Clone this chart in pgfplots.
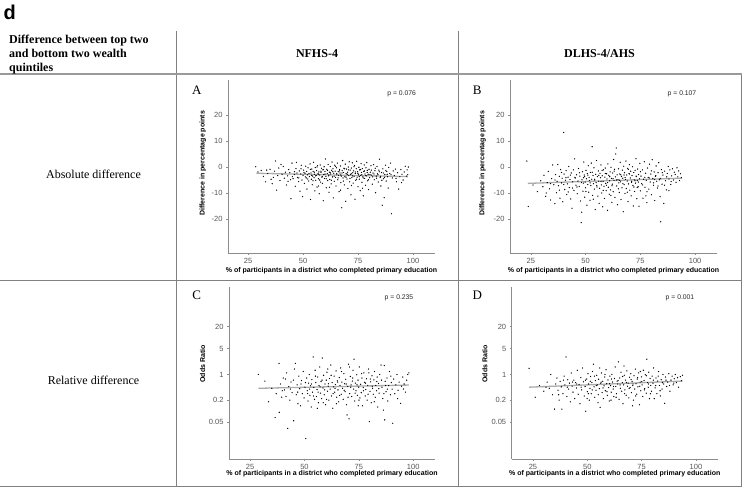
\documentclass[border=0pt]{standalone}
\usepackage{fontspec}
\setmainfont{Liberation Serif}
\setsansfont{Liberation Sans}
\usepackage{pgfplots}
\pgfplotsset{compat=1.18}
\definecolor{rulegray}{RGB}{128,128,128}
\definecolor{axisgray}{RGB}{140,140,140}
\definecolor{ticktext}{RGB}{85,85,85}
\definecolor{dotcol}{RGB}{60,60,60}
\definecolor{fitline}{RGB}{170,170,170}

\pgfplotsset{
  panel/.style={
    scale only axis, anchor=south west,
    axis lines=left, axis line style={draw=axisgray, line width=0.9pt, -},
    tick style={draw=axisgray, line width=0.6pt}, tick align=outside,
    major tick length=2pt,
    xmax=110, xtick={25,50,75,100},
    ticklabel style={font=\sffamily\fontsize{7.5}{8}\selectfont, text=ticktext},
    /pgf/number format/assume math mode=true,
    xlabel={\% of participants in a district who completed primary education},
    label style={font=\sffamily\bfseries\fontsize{7}{8}\selectfont},
  },
  absrow/.style={width=207pt, height=173pt, ymin=-33, ymax=33.6,
    ytick={-20,-10,0,10,20},
    ylabel={Difference in percentage points},
    xlabel style={at={(axis description cs:0.5,-0.102)}, anchor=center}},
  relrow/.style={width=206pt, height=172pt, ymin=0.005, ymax=240,
    ytick={0.05,0.2,1,5,20}, yticklabels={0.05,0.2,1,5,20},
    ylabel={Odds Ratio},
    xlabel style={at={(axis description cs:0.5,-0.087)}, anchor=center}},
  dots/.style={only marks, mark=*, mark size=0.38pt,
    mark options={draw=none, fill=dotcol}},
  fit/.style={no marks, draw=fitline, line width=1.3pt},
}

\begin{document}
\begin{tikzpicture}[x=1pt, y=1pt]
\path[use as bounding box] (0,0) rectangle (742,487);

% table rules
\draw[rulegray, line width=0.9pt] (176,456) -- (176,0);
\draw[rulegray, line width=0.9pt] (458,456) -- (458,0);
\draw[rulegray, line width=0.9pt] (741,414) -- (741,0);
\draw[rulegray!80, line width=1.3pt] (0,413) -- (742,413);
\draw[rulegray, line width=0.9pt] (0,207) -- (742,207);
\draw[rulegray, line width=0.9pt] (0,1) -- (742,1);

% header text
\node[anchor=base west, inner sep=0, font=\sffamily\bfseries\fontsize{20}{22}\selectfont] at (3.5,467) {d};
\begin{scope}[every node/.style={inner sep=0, font=\bfseries\fontsize{12}{14}\selectfont}]
\node[anchor=base west] at (9,443.5) {Difference between top two};
\node[anchor=base west] at (9,429) {and bottom two wealth};
\node[anchor=base west] at (9,415) {quintiles};
\node[anchor=base] at (317,429) {NFHS-4};
\node[anchor=base] at (599.5,429) {DLHS-4/AHS};
\end{scope}
\begin{scope}[every node/.style={inner sep=0, font=\fontsize{12}{14}\selectfont}]
\node at (93.5,312.7) {Absolute difference};
\node at (93.5,107) {Relative difference};
\end{scope}
\begin{scope}[every node/.style={inner sep=0, font=\fontsize{13}{15}\selectfont}]
\node at (196.7,397) {A};
\node at (477.3,397) {B};
\node at (196.7,192) {C};
\node at (477.3,192) {D};
\end{scope}
\begin{scope}[every node/.style={inner sep=0, text=black!85, font=\sffamily\fontsize{6.8}{7}\selectfont}]
\node at (401.7,393) {p = 0.076};
\node at (682,393) {p = 0.107};
\node at (399,188.7) {p = 0.235};
\node at (680,189) {p = 0.001};
\end{scope}

% A: NFHS-4, absolute difference
\begin{axis}[panel, absrow, at={(228pt,234pt)}, xmin=15.9,
  ylabel style={at={(axis description cs:-0.121,0.518)}, anchor=center}]
\addplot[dots] coordinates {
(28.5,0.2) (29.5,-1.8) (31,-1.2) (32,-3.5) (33,-5.6) (34,-2.4) (35,-0.8) (35.5,-4.6) (36,-6.3) (37,-1.5)
(37.5,2.4) (38,-8.8) (38.5,-3.2) (39,-0.3) (39.5,-5.1) (40,1.1) (40.5,-2.7) (41,0.3) (41.5,-4.2) (42,-1.9)
(42.5,-6.8) (43,-3.3) (43.5,-0.9) (44,-2.1) (44.5,-12.1) (45,1.6) (45.5,-4.4) (46,-2.8) (46.5,-7.3) (46.8,-0.5)
(47,1.9) (47.5,-3.9) (48,-5.5) (48.3,-1.4) (48.6,-9.2) (49,-2.6) (49.2,0.8) (49.5,-4.9) (49.8,-11.3) (50,-3.1)
(50.3,-1.1) (50.6,-6.2) (50.9,-2.3) (51.2,0.4) (51.5,-4.1) (51.8,-8.4) (52,-2.9) (52.3,-0.2) (52.6,-5.3) (52.9,-3.6)
(53.2,1.3) (53.4,-12.4) (53.6,-2.2) (53.8,-4.6) (54,-0.7) (54.2,-6.7) (54.4,-3.4) (54.6,-1.6) (54.8,1.9) (55,-4.0)
(55.2,-2.7) (55.4,-9.1) (55.6,-0.1) (55.8,-5.0) (56,-3.2) (56.2,-1.3) (56.4,-7.6) (56.6,0.6) (56.8,-2.5) (57,-4.4)
(57.2,-1.8) (57.4,-10.2) (57.6,-3.0) (57.8,0.9) (58,-5.7) (58.2,-2.0) (58.4,-0.4) (58.6,-3.8) (58.8,-6.2) (59,-1.0)
(59.2,-12.9) (59.4,-2.8) (59.6,0.2) (59.8,-4.3) (60,-1.6) (60.2,3.2) (60.4,-3.5) (60.6,-7.9) (60.8,-0.8) (61,-2.4)
(61.2,-5.1) (61.4,1.1) (61.6,-3.3) (61.8,-9.6) (62,-1.9) (62.2,-4.7) (62.4,0.3) (62.6,-2.6) (62.8,-6.4) (63,-1.2)
(63.2,2.0) (63.4,-3.7) (63.6,-0.6) (63.8,-11.8) (64,-2.3) (64.2,-5.4) (64.4,0.8) (64.6,-1.5) (64.8,-3.9) (65,-7.2)
(65.2,-0.2) (65.4,-2.9) (65.6,1.6) (65.8,-4.8) (66,-1.7) (66.2,-3.1) (66.4,-9.4) (66.6,-0.9) (66.8,-2.2) (67,0.5)
(67.2,-5.9) (67.4,-3.4) (67.6,-15.6) (67.8,-1.3) (68,2.6) (68.2,-4.1) (68.4,-2.0) (68.6,-0.4) (68.8,-6.8) (69,-3.6)
(69.2,1.2) (69.4,-13.1) (69.6,-2.5) (69.8,-0.7) (70,-4.5) (70.2,-1.9) (70.4,-8.2) (70.6,0.1) (70.8,-3.2) (71,2.1)
(71.2,-5.6) (71.4,-1.1) (71.6,-2.8) (71.8,-10.6) (72,-0.3) (72.2,-4.0) (72.4,1.7) (72.6,-2.1) (72.8,-6.1) (73,-1.4)
(73.2,-3.5) (73.4,0.7) (73.6,-12.3) (73.8,-2.4) (74,-5.0) (74.2,-0.6) (74.4,2.3) (74.6,-3.8) (74.8,-1.7) (75,-7.5)
(75.2,-2.9) (75.4,0.0) (75.6,-4.6) (75.8,-1.0) (76,-9.0) (76.2,-3.1) (76.4,1.4) (76.6,-2.0) (76.8,-5.8) (77,-0.5)
(77.2,-3.7) (77.4,-11.0) (77.6,-1.6) (77.8,0.9) (78,-4.3) (78.2,-2.6) (78.4,-6.9) (78.6,-0.2) (78.8,-3.3) (79,1.8)
(79.2,-1.2) (79.4,-5.2) (79.6,-2.7) (79.8,-8.6) (80,-0.8) (80.3,-4.0) (80.6,-1.9) (80.9,0.6) (81.2,-3.0) (81.5,-6.5)
(81.8,-2.2) (82.1,1.0) (82.4,-4.8) (82.7,-1.3) (83,-9.8) (83.3,-3.4) (83.6,0.3) (83.9,-2.5) (84.2,-5.7) (84.5,-1.1)
(84.8,3.1) (85.1,-3.9) (85.4,-7.2) (85.7,-2.0) (86,-14.6) (86.3,-0.6) (86.6,-4.4) (86.9,-11.7) (87.2,-2.8) (87.5,0.8)
(87.8,-5.3) (88.1,-1.6) (88.4,-3.6) (88.7,-8.0) (89,-0.1) (89.4,-2.4) (89.8,1.6) (90.2,-17.9) (90.6,-4.1) (91,-1.4)
(91.5,-3.2) (92,-0.7) (92.5,-5.6) (93,-2.1) (93.5,-8.4) (94,-3.6) (94.5,-0.9) (95,-2.7) (95.5,-4.9) (96,-1.8)
(96.5,0.4) (97,-3.4) (97.3,-1.0) (97.6,-2.9) (97.9,0.1)
(50.45,-2.0) (51.05,-3.7) (51.65,-1.6) (52.15,-4.5) (52.75,-2.4) (53.35,-0.8) (53.95,-3.1) (54.55,-5.2) (55.15,-1.9) (55.75,-3.3)
(56.35,0.1) (56.95,-2.7) (57.55,-4.9) (58.15,-1.5) (58.75,-3.6) (59.35,-0.9) (59.95,-2.6) (60.55,-4.4) (61.15,-1.2) (61.75,-3.0)
(62.35,-2.1) (62.95,-5.0) (63.55,-1.7) (64.15,-3.4) (64.75,0.4) (65.35,-2.4) (65.95,-4.1) (66.55,-1.4) (67.15,-3.0) (67.75,-2.2)
(68.35,-5.3) (68.95,-0.6) (69.55,-3.8) (70.15,-2.7) (70.75,-1.0) (71.35,-4.3) (71.95,-2.5) (72.55,-3.3) (73.15,0.2) (73.75,-1.8)
(74.35,-4.6) (74.95,-2.3) (75.55,-3.6) (76.15,-0.9) (76.75,-2.9) (77.35,-4.1) (77.95,-1.4) (78.55,-3.2) (79.15,-2.0) (79.75,-4.8)
(80.45,-2.8) (81.05,-1.1) (81.65,-3.7) (82.25,-2.6) (82.85,-0.4) (83.45,-4.2) (84.05,-2.9) (84.65,-1.7) (85.25,-3.5) (85.85,-5.0)
(86.45,-2.2) (87.05,-3.9) (87.65,-1.3) (88.25,-2.7) (45.2,-3.6) (46.1,-1.7) (47.3,-2.2) (48.1,-4.1) (49.1,-0.6) (44.3,-4.8)
(43.2,-5.4) (90,-2.9) (92.3,-4.3) (94.8,-5.9) (36.5,-3.9) (33.5,-1.1) (57.05,-7.2) (62.05,-7.7) (67.05,-8.8) (72.05,-7.0)
(77.05,-8.1)
};
\addplot[fit] coordinates {(28.8,-2.3) (97.7,-3.6)};
\end{axis}

% B: DLHS-4/AHS, absolute difference
\begin{axis}[panel, absrow, at={(510pt,234pt)}, xmin=15.5,
  ylabel style={at={(axis description cs:-0.132,0.518)}, anchor=center}]
\addplot[dots] coordinates {
(23.2,2.4) (23.8,-15.1) (26,-6.8) (28,-9.4) (29.5,-5.2) (30.5,-7.5) (31,-3.1) (31.8,-11.2) (32.5,-5.9) (33,-1.6)
(33.5,-8.3) (34,-12.6) (34.5,-4.4) (35,0.9) (35.5,-6.7) (36,-14.0) (36.3,-2.8) (36.7,-9.8) (37,-5.4) (37.3,1.1)
(37.6,-7.1) (38,-3.5) (38.3,-11.9) (38.6,-0.9) (39,-6.0) (39.3,-4.2) (39.6,-13.3) (40,13.4) (40.2,-2.6) (40.5,-8.6)
(40.8,-5.0) (41.1,-1.3) (41.4,-10.5) (41.7,-6.4) (42,-3.8) (42.3,0.3) (42.6,-7.8) (42.9,-4.7) (43.2,-12.2) (43.5,-2.2)
(43.8,-15.8) (44.1,-5.6) (44.4,-1.0) (44.7,-8.9) (45,3.2) (45.3,-4.1) (45.6,-6.9) (45.9,-2.9) (46.2,-10.2) (46.5,-5.3)
(46.8,-0.5) (47.1,-7.4) (47.4,-3.4) (47.7,-13.0) (48,-21.3) (48.2,-17.3) (48.4,-4.8) (48.6,-1.7) (48.8,-9.2) (49,-6.1)
(49.2,2.0) (49.4,-3.0) (49.6,-11.5) (49.8,-5.7) (50,-7.9) (50.2,-1.2) (50.4,-4.4) (50.6,-14.6) (50.8,-2.4) (51,-6.6)
(51.2,0.6) (51.4,-9.6) (51.6,-3.9) (51.8,-5.1) (52,-12.7) (52.2,-2.0) (52.4,-7.0) (52.6,1.6) (52.8,-4.6) (53,7.9)
(53.2,-10.8) (53.4,-3.2) (53.6,-6.3) (53.8,-0.2) (54,-8.4) (54.2,-4.9) (54.4,-16.3) (54.6,-2.7) (54.8,-5.9) (55,2.6)
(55.2,-7.6) (55.4,-3.6) (55.6,-11.1) (55.8,-1.4) (56,-5.4) (56.2,-13.9) (56.4,-8.1) (56.6,-2.3) (56.8,-4.0) (57,0.9)
(57.2,-6.8) (57.4,-9.9) (57.6,-3.3) (57.8,-15.2) (58,-5.5) (58.2,-1.0) (58.4,-7.3) (58.6,-12.0) (58.8,-3.8) (59,-0.3)
(59.2,-6.2) (59.4,-9.0) (59.6,-2.5) (59.8,-4.5) (60,-16.6) (60.2,1.3) (60.4,-7.7) (60.6,-3.1) (60.8,-10.4) (61,-5.2)
(61.2,-1.8) (61.4,-8.7) (61.6,0.0) (61.8,-4.3) (62,-13.5) (62.2,-6.5) (62.4,-2.2) (62.6,-9.4) (62.8,3.0) (63,-5.0)
(63.2,-0.8) (63.4,-11.6) (63.6,-3.7) (63.8,5.1) (64,7.4) (64.2,-7.2) (64.4,-2.9) (64.6,-14.4) (64.8,-4.8) (65,-0.6)
(65.2,-6.0) (65.4,-9.7) (65.6,-2.6) (65.8,1.9) (66,-5.6) (66.2,-12.4) (66.4,-3.5) (66.6,-7.9) (66.8,-1.1) (67,-4.2)
(67.2,-17.1) (67.4,0.4) (67.6,-6.7) (67.8,-2.1) (68,-10.1) (68.2,-4.7) (68.4,2.4) (68.6,-8.2) (68.8,-3.0) (69,-5.3)
(69.2,-0.4) (69.4,-13.2) (69.6,-6.4) (69.8,-2.4) (70,1.0) (70.2,-8.8) (70.4,-4.1) (70.6,-1.5) (70.8,-11.0) (71,-5.8)
(71.2,-3.2) (71.4,0.2) (71.6,-7.0) (71.8,-14.9) (72,-2.0) (72.2,-4.9) (72.4,-9.3) (72.6,-1.2) (72.8,-6.1) (73,3.3)
(73.2,-3.6) (73.4,-12.1) (73.6,-5.1) (73.8,-0.7) (74,-7.5) (74.2,-2.8) (74.4,-15.0) (74.6,-4.4) (74.8,1.5) (75,-9.1)
(75.3,-3.4) (75.6,-6.3) (75.9,-1.0) (76.2,-11.9) (76.5,-4.6) (76.8,2.1) (77.1,-7.7) (77.4,-2.3) (77.7,-5.0) (78,-13.6)
(78.3,-0.3) (78.6,-3.9) (78.9,-8.4) (79.2,1.2) (79.5,-5.7) (79.8,-2.6) (80.1,-10.6) (80.4,2.9) (80.7,-4.3) (81,-6.9)
(81.3,-1.8) (81.6,-12.8) (81.9,-3.5) (82.2,0.5) (82.5,-5.4) (82.8,-8.0) (83.1,-2.1) (83.4,1.8) (83.7,-4.8) (84,-11.3)
(84.3,-21.0) (84.6,-0.9) (84.9,-6.5) (85.3,-3.0) (85.7,-13.9) (86.1,-1.5) (86.5,-5.2) (86.9,-8.7) (87.3,-2.4) (87.7,0.3)
(88.1,-4.5) (88.5,-1.0) (88.9,-6.6) (89.3,-3.3) (89.7,-0.6) (90.1,-4.9) (90.5,-1.9) (90.9,-2.8) (91.3,-5.8) (91.7,-0.2)
(92.1,-3.7) (92.5,-1.4) (92.9,-5.1) (93.3,-2.5) (93.7,-4.0)
(45.15,-3.9) (46.05,-7.6) (47.25,-2.1) (48.15,-5.9) (49.05,-4.0) (50.15,-9.3) (51.05,-3.0) (52.05,-6.0) (53.05,-1.9) (54.05,-4.6)
(55.05,-7.0) (56.05,-3.1) (57.05,-5.5) (58.05,-8.9) (59.05,-2.4) (60.05,-5.9) (61.05,-3.6) (62.05,-7.1) (63.05,-1.5) (64.05,-4.9)
(65.05,-8.3) (66.05,-2.9) (67.05,-6.3) (68.05,-4.0) (69.05,-9.6) (70.05,-2.6) (71.05,-5.4) (72.05,-7.6) (73.05,-3.4) (74.05,-5.7)
(75.05,-1.7) (76.05,-6.8) (77.05,-3.9) (78.05,-9.4) (79.05,-4.1) (80.05,-1.4) (81.05,-6.0) (82.05,-3.2) (83.05,-7.2) (84.05,-4.3)
(85.05,-2.1) (86.05,-6.9) (87.05,-3.7) (88.05,-9.0) (89.05,-5.5) (44.05,-8.0) (43.05,-3.0) (42.05,-9.5) (41.05,-4.0) (40.05,-6.6)
(39.05,-2.0) (38.05,-8.8) (36.05,-4.9) (34.05,-6.3) (32.05,-9.9) (57.55,-1.2) (61.55,-10.9) (65.55,-5.0) (69.55,-0.8) (73.55,-7.8)
(77.55,-11.0) (81.55,-4.7) (53.55,-12.3) (49.55,-3.6) (62.55,-4.4) (67.55,-3.0) (72.55,-5.2) (59.55,-6.9)
};
\addplot[fit] coordinates {(23.7,-6.2) (93.8,-4.2)};
\end{axis}

% C: NFHS-4, relative difference
\begin{axis}[ymode=log, panel, relrow, at={(229pt,28pt)}, xmin=15.3,
  ylabel style={at={(axis description cs:-0.128,0.552)}, anchor=center}]
\addplot[dots] coordinates {
(28.8,1.0) (31.8,0.66) (33.5,0.18) (35,0.42) (36.5,0.067) (37,0.3) (38.3,2.0) (38.4,0.093) (39,0.55) (39.5,0.24)
(40.2,0.8) (40.8,0.38) (41.3,0.75) (41.8,1.1) (42.3,0.034) (42.8,0.47) (43.3,0.2) (43.8,0.62) (44.3,0.32) (45,0.055)
(45.4,1.4) (45.8,2.0) (46.2,0.28) (46.6,0.52) (47,0.16) (47.4,0.9) (47.8,0.41) (48.2,0.14) (48.6,0.68) (49,0.3)
(49.4,1.2) (49.8,0.23) (50.2,0.45) (50.6,0.018) (51,0.8) (51.3,0.36) (51.6,0.19) (51.9,0.58) (52.2,1.0) (52.5,0.27)
(52.8,0.49) (53.1,0.13) (53.4,0.72) (53.7,0.33) (54,3.0) (54.3,0.44) (54.6,0.21) (54.9,1.3) (55.2,0.6) (55.5,0.25)
(55.8,0.39) (56.1,0.85) (56.4,0.17) (56.7,0.5) (57,1.6) (57.3,0.31) (57.6,0.64) (57.9,0.22) (58.2,2.8) (58.5,0.43)
(58.8,0.95) (59.1,0.28) (59.4,0.55) (59.7,0.15) (60,0.7) (60.3,1.15) (60.6,0.35) (60.9,0.48) (61.2,0.2) (61.5,0.78)
(61.8,0.4) (62.1,1.8) (62.4,0.26) (62.7,0.6) (63,0.12) (63.3,0.46) (63.6,0.9) (63.9,0.33) (64.2,0.53) (64.5,1.25)
(64.8,0.24) (65.1,0.67) (65.4,0.38) (65.7,0.18) (66,0.82) (66.3,0.5) (66.6,1.5) (66.9,0.29) (67.2,0.62) (67.5,0.42)
(67.8,0.21) (68.1,1.05) (68.4,0.56) (68.7,0.34) (69,0.74) (69.3,0.15) (69.6,0.079) (69.9,0.47) (70.2,1.9) (70.5,0.062)
(70.8,0.3) (71.1,0.88) (71.4,0.52) (71.7,0.25) (72,0.66) (72.3,1.3) (72.6,0.4) (72.8,2.6) (73.1,0.19) (73.4,0.58)
(73.7,0.36) (74,0.98) (74.3,0.27) (74.6,0.7) (74.9,0.45) (75.2,1.6) (75.5,0.23) (75.8,0.54) (76.1,0.32) (76.4,0.8)
(76.7,0.14) (77,0.44) (77.3,1.1) (77.6,0.61) (77.9,0.26) (78.2,0.39) (78.5,0.76) (78.8,0.2) (79.1,0.5) (79.4,1.4)
(79.8,0.052) (80.1,0.35) (80.4,0.63) (80.7,0.17) (81,0.92) (81.3,0.42) (81.6,0.29) (81.9,0.71) (82.2,1.2) (82.5,0.24)
(82.8,0.5) (83.1,0.36) (83.4,0.85) (83.7,0.13) (84,0.57) (84.3,0.31) (84.6,1.0) (85.2,1.8) (85.6,0.45) (86,0.22)
(86.3,0.107) (86.7,1.75) (86.9,0.058) (87.1,0.65) (87.5,0.34) (87.9,0.8) (88.3,0.19) (88.7,0.5) (89.1,1.2) (89.5,0.28)
(89.9,0.6) (90.3,0.4) (90.6,0.047) (91,0.75) (91.5,0.3) (92,0.52) (92.5,1.0) (93,0.37) (93.5,0.62) (94.2,0.164)
(94.6,0.48) (95.2,0.85) (95.8,0.55) (96.4,0.33) (97,0.7) (97.5,1.0) (98,1.1)
(50.45,0.6) (51.45,0.3) (52.35,0.4) (53.25,0.55) (54.15,0.26) (55.05,0.9) (56.25,0.33) (57.15,0.46) (58.05,0.7) (59.25,0.38)
(60.15,0.21) (61.05,0.56) (62.25,0.95) (63.15,0.3) (64.05,0.42) (65.25,0.62) (66.15,0.27) (67.05,1.2) (68.25,0.37) (69.15,0.55)
(70.05,0.24) (71.25,0.45) (72.15,0.8) (73.25,0.31) (74.15,0.52) (75.05,0.2) (76.25,1.05) (77.15,0.36) (78.05,0.58) (79.25,0.29)
(80.25,0.75) (81.15,0.48) (82.05,0.18) (83.25,0.64) (84.15,0.41) (85.4,0.7) (86.5,0.3) (87.3,0.5) (88.1,0.4) (48.4,0.55)
(46.9,0.33) (44.9,0.7) (43.5,0.4) (41.5,0.25) (39.8,0.36) (89.7,0.9) (92.8,0.22) (95.5,0.4) (60.7,1.4) (70.7,1.6)
(64.7,0.16) (74.7,0.14) (58.6,0.17) (79.6,1.1) (55.9,0.12)
};
\addplot[fit] coordinates {(28.8,0.42) (98,0.515)};
\end{axis}

% D: DLHS-4/AHS, relative difference
\begin{axis}[ymode=log, panel, relrow, at={(511.7pt,28pt)}, xmin=15.2,
  ylabel style={at={(axis description cs:-0.13,0.552)}, anchor=center}]
\addplot[dots] coordinates {
(23.2,1.47) (26,0.24) (28,0.5) (30,0.35) (31.5,0.62) (32.5,0.42) (33.2,1.0) (34,0.28) (34.9,0.114) (35.5,0.55)
(36,0.8) (36.5,0.37) (37,0.2) (37.5,0.65) (38,0.46) (38.3,0.114) (38.8,0.3) (39.3,0.9) (39.7,0.52) (40.2,3.0)
(40.6,0.25) (41,0.72) (41.4,0.4) (41.8,0.58) (42.2,0.18) (42.6,1.1) (43,0.48) (43.4,0.33) (43.8,0.7) (44.2,0.22)
(44.6,0.6) (45,0.43) (45.4,1.3) (45.8,0.29) (46.2,0.53) (46.6,0.16) (47,0.82) (47.4,0.38) (47.8,1.5) (48.2,0.63)
(48.6,0.26) (49,0.47) (49.3,0.1) (49.7,0.75) (50,0.34) (50.3,1.05) (50.6,0.55) (50.9,0.2) (51.2,0.42) (51.5,0.88)
(51.8,0.3) (52.1,0.6) (52.4,1.2) (52.8,1.9) (53.1,0.46) (53.4,0.24) (53.7,0.68) (54,0.37) (54.3,0.95) (54.6,0.52)
(54.9,0.17) (55.2,0.74) (55.5,0.41) (55.9,0.127) (56.2,0.58) (56.5,1.1) (56.8,0.32) (57.1,0.65) (57.4,0.22) (57.7,0.49)
(58,0.85) (58.3,0.36) (58.6,1.35) (58.9,0.56) (59.2,0.27) (59.5,0.71) (59.8,0.44) (60.1,0.19) (60.4,0.9) (60.7,0.5)
(61,0.33) (61.3,1.0) (61.6,0.62) (61.9,0.4) (62.2,0.25) (62.5,0.78) (62.8,1.6) (63.1,0.47) (63.4,0.3) (63.7,0.66)
(64,0.55) (64.3,2.2) (64.6,0.21) (64.9,0.8) (65.2,0.42) (65.5,1.15) (65.8,0.35) (66.1,0.6) (66.4,0.16) (66.7,0.52)
(67,0.95) (67.3,0.38) (67.6,0.7) (67.9,0.27) (68.2,1.25) (68.5,0.48) (68.8,0.58) (69.1,0.23) (69.4,0.84) (69.7,0.44)
(70,1.05) (70.3,0.32) (70.6,0.64) (70.9,0.5) (71.2,0.2) (71.5,0.92) (71.8,0.4) (72.1,1.4) (72.4,0.56) (72.7,0.29)
(73,0.75) (73.3,0.46) (73.6,1.1) (74,0.15) (74.3,0.62) (74.6,0.36) (74.9,0.86) (75.2,0.52) (75.5,0.25) (75.8,1.3)
(76.1,0.68) (76.4,0.41) (76.7,0.98) (77.1,0.31) (77.4,2.6) (77.7,0.6) (78,0.45) (78.3,1.15) (78.6,0.22) (78.9,0.78)
(79.2,0.5) (79.5,0.35) (79.8,0.9) (80.2,0.58) (80.5,1.5) (80.8,0.22) (81.2,0.43) (81.6,0.8) (82,0.3) (82.4,0.66)
(82.8,1.2) (83.2,0.5) (83.6,0.26) (84,0.72) (84.4,0.4) (84.8,1.0) (85.2,0.55) (85.6,0.164) (86,0.85) (86.5,0.47)
(87,0.62) (87.5,1.05) (88,0.35) (88.5,0.7) (89,0.9) (89.5,0.52) (90,0.76) (90.5,1.0) (91,0.6) (91.5,0.82)
(92,0.45) (92.8,0.87) (93.3,0.68) (93.8,0.95)
(45.15,0.55) (47.15,0.45) (49.15,0.7) (50.45,0.3) (51.35,0.65) (52.25,0.38) (53.25,0.9) (54.15,0.5) (55.05,0.28) (56.35,0.62)
(57.25,0.43) (58.15,1.0) (59.05,0.34) (60.25,0.56) (61.15,0.75) (62.05,0.47) (63.25,0.24) (64.15,0.68) (65.05,0.52) (66.25,0.88)
(67.15,0.3) (68.05,0.6) (69.25,0.42) (70.15,0.72) (71.05,0.55) (72.25,0.26) (73.15,0.82) (74.15,0.48) (75.05,0.64) (76.25,0.38)
(77.25,0.92) (78.15,0.55) (79.05,0.3) (80.35,0.7) (81.45,0.5) (82.6,0.9) (83.5,0.36) (84.6,0.6) (86.2,0.7) (87.8,0.5)
(89.8,0.58) (43.2,0.62) (40.8,0.45) (39.0,0.7) (36.8,0.28) (31,0.45) (66.9,1.7) (70.8,0.14) (60.9,0.2) (55.7,1.5)
(74.4,1.2) (49.9,0.22)
};
\addplot[fit] coordinates {(23.2,0.45) (93.8,0.66)};
\end{axis}
\end{tikzpicture}
\end{document}
